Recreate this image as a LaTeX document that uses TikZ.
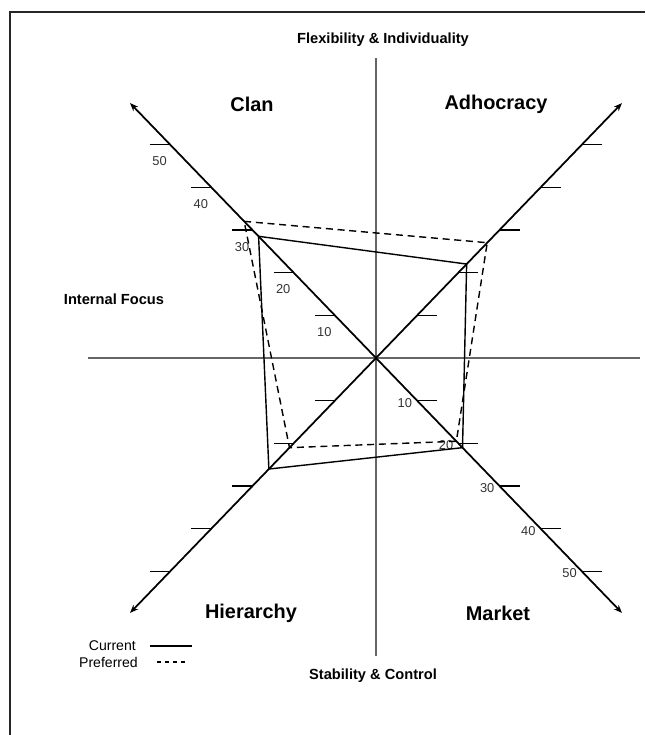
\documentclass[tikz,border=0pt]{standalone}
\usepackage{fontspec}
\setmainfont{Liberation Sans}
\usetikzlibrary{calc,arrows.meta}
\begin{document}
\begin{tikzpicture}[x=0.03cm,y=-0.03cm,
  axisline/.style={draw=black!60,line width=1.6pt},
  diag/.style={draw=black,line width=1.5pt,-{Stealth[length=7pt,width=5.5pt]}},
  tickmark/.style={draw=black,line width=1.1pt},
  cur/.style={draw=black,line width=1.2pt},
  pref/.style={draw=black,line width=1.2pt,dash pattern=on 6pt off 4pt},
  quad/.style={font=\fontsize{17}{20}\selectfont\bfseries,inner sep=0pt},
  axlab/.style={font=\fontsize{12.5}{15}\selectfont\bfseries,inner sep=0pt},
  num/.style={font=\fontsize{11}{13}\selectfont,text=black!80,inner sep=0pt},
  leg/.style={font=\fontsize{12}{14}\selectfont,inner sep=0pt,anchor=east}
]
\useasboundingbox (0,0) rectangle (645,735);
% frame
\draw[line width=1.6pt,draw=black!85] (10,735) -- (10,12) -- (645,12);
% centre and axes
\coordinate (C) at (376,358);
\coordinate (top) at (376,58);
\coordinate (bot) at (376,656);
\coordinate (lft) at (88,358);
\coordinate (rgt) at (640,358);
\draw[axisline] (top) -- (bot);
\draw[axisline] (lft) -- (rgt);
% diagonal ends
\coordinate (NWe) at ($(C)+59.7*(-4.12,-4.27)$);
\coordinate (NEe) at ($(C)+59.7*(4.12,-4.27)$);
\coordinate (SEe) at ($(C)+59.7*(4.12,4.27)$);
\coordinate (SWe) at ($(C)+59.7*(-4.12,4.27)$);
\draw[diag] (C) -- (NWe);
\draw[diag] (C) -- (NEe);
\draw[diag] (C) -- (SEe);
\draw[diag] (C) -- (SWe);
% ticks and labels
\foreach \v in {1,...,5}{
  \coordinate (tnw\v) at ($(C)+\v*10*(-4.12,-4.27)$);
  \coordinate (tne\v) at ($(C)+\v*10*(4.12,-4.27)$);
  \coordinate (tse\v) at ($(C)+\v*10*(4.12,4.27)$);
  \coordinate (tsw\v) at ($(C)+\v*10*(-4.12,4.27)$);
  \draw[tickmark] (tnw\v) -- ++(-20,0);
  \draw[tickmark] (tne\v) -- ++(20,0);
  \draw[tickmark] (tse\v) -- ++(20,0);
  \draw[tickmark] (tsw\v) -- ++(-20,0);
  \node[num,anchor=north east] (lnw\v) at ($(tnw\v)+(-3,12)$) {\v0};
  \node[num,anchor=east] (lse\v) at ($(tse\v)+(-5,2)$) {\v0};
}
% current profile
\coordinate (cC) at ($(C)+28.5*(-4.12,-4.27)$);
\coordinate (cA) at ($(C)+22*(4.12,-4.27)$);
\coordinate (cM) at ($(C)+21*(4.12,4.27)$);
\coordinate (cH) at ($(C)+26*(-4.12,4.27)$);
\draw[cur] (cC) -- (cA) -- (cM) -- (cH) -- cycle;
% preferred profile
\coordinate (pC) at ($(C)+32*(-4.12,-4.27)$);
\coordinate (pA) at ($(C)+27*(4.12,-4.27)$);
\coordinate (pM) at ($(C)+19.5*(4.12,4.27)$);
\coordinate (pH) at ($(C)+21*(-4.12,4.27)$);
\draw[pref] (pC) -- (pA) -- (pM) -- (pH) -- cycle;
% quadrant names
\node[quad] (clan) at (252,104) {Clan};
\node[quad] (adho) at (496,104) {Adhocracy};
\node[quad] (hier) at (251,613) {Hierarchy};
\node[quad] (mark) at (498,613) {Market};
% axis labels
\node[axlab] (flex) at (383,40) {Flexibility \& Individuality};
\node[axlab] (intf) at (114,299) {Internal Focus};
\node[axlab] (stab) at (373,676) {Stability \& Control};
% legend
\node[leg] (lcur) at (136,646) {Current};
\node[leg] (lpre) at (138,662) {Preferred};
\coordinate (lc1) at (150,646);
\coordinate (lc2) at (192,646);
\coordinate (lp1) at (157,662);
\coordinate (lp2) at (188,662);
\draw[cur] (lc1) -- (lc2);
\draw[line width=1.1pt,dash pattern=on 3.4pt off 3.4pt] (lp1) -- (lp2);
\end{tikzpicture}
\end{document}
